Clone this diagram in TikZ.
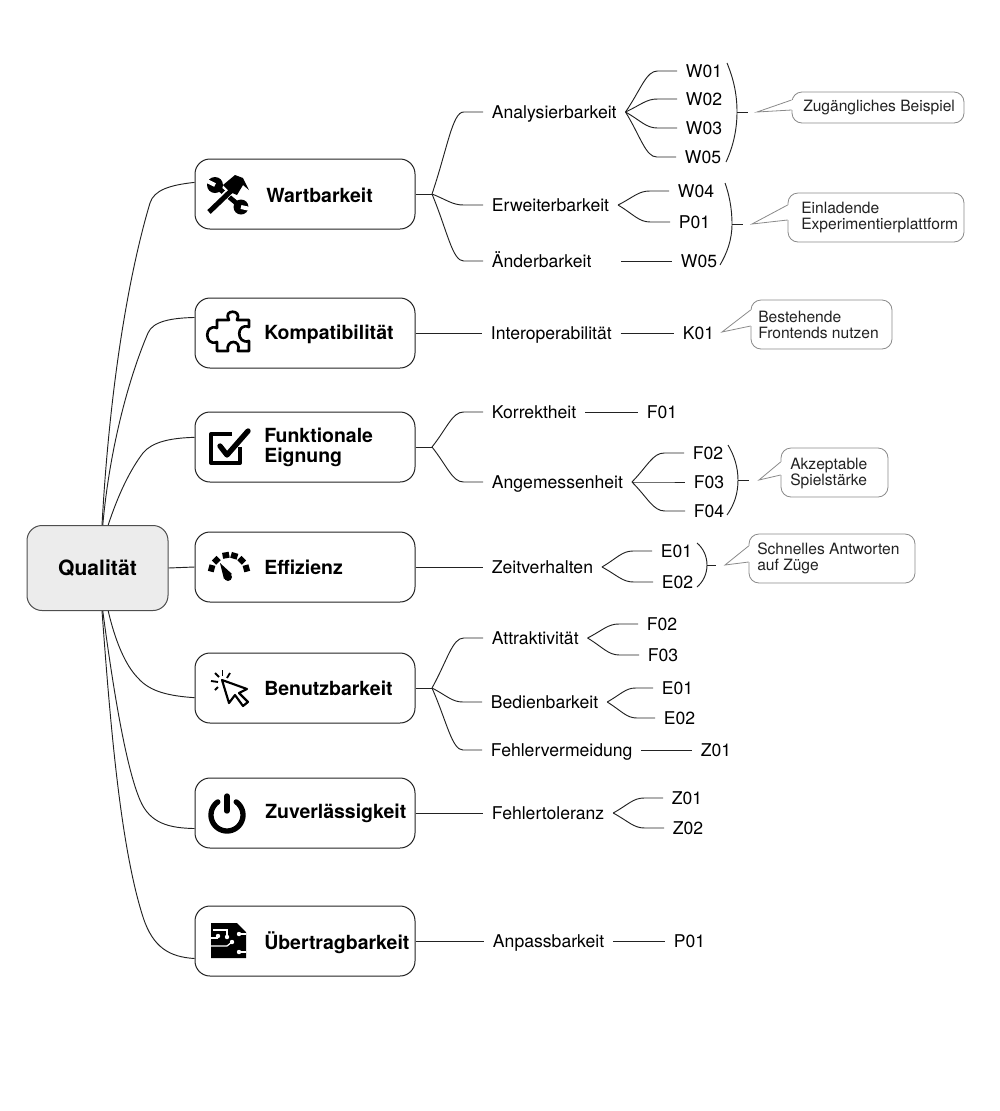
\documentclass[tikz,border=0pt]{standalone}
\usepackage{fontspec}
\setmainfont{TeX Gyre Heros}
\usetikzlibrary{calc}
\definecolor{linecol}{HTML}{222222}
\definecolor{notecol}{HTML}{8A8A8A}
\definecolor{rootcol}{HTML}{ECECEC}
\tikzset{
  link/.style={draw=linecol,line width=0.7pt},
  rootbox/.style={draw=linecol!80,fill=rootcol,rounded corners=11.25pt,line width=0.75pt,minimum width=105.75pt,minimum height=63.75pt,font=\bfseries\fontsize{15.8}{18}\selectfont},
  catbox/.style={draw=linecol,fill=white,rounded corners=11.25pt,line width=0.75pt,minimum width=165pt,minimum height=52.5pt},
  cattext/.style={anchor=west,inner sep=0pt,align=left,font=\bfseries\fontsize{14.6}{15}\selectfont},
  sublabel/.style={anchor=west,inner xsep=6.5pt,inner ysep=0pt,text height=11pt,text depth=2pt,font=\fontsize{13.2}{15}\selectfont},
  notebox/.style={draw=notecol,fill=white,rounded corners=7.5pt,line width=0.6pt},
  notetext/.style={anchor=west,inner sep=0pt,align=left,text=linecol,font=\fontsize{11.7}{12}\selectfont},
  notetail/.style={draw=notecol,line width=0.6pt},
  icon/.style={draw=black,line width=2pt,line join=round},
}
% twig from a hub to a label, bent near its end
\newcommand{\twig}[2]{%
  \draw[link] let \p1=(#1),\p2=(#2) in
    (\p1) .. controls ({\x1+0.3*(\x2-\x1)},{\y1+0.55*(\y2-\y1)}) and ({\x1+0.4*(\x2-\x1)},\y2)
    .. ({\x1+0.62*(\x2-\x1)},\y2) -- (\p2);}
% tail of a note, its mouth cut out of the border
\newcommand{\tail}[4]{%
  \draw[white,line width=1.4pt] ($(#1.west)+(0,#3)$) -- ($(#1.west)+(0,#4)$);
  \draw[notetail] ($(#1.west)+(0,#3)$) -- (#2) -- ($(#1.west)+(0,#4)$);}
\begin{document}
\begin{tikzpicture}[x=0.75pt,y=-0.75pt]
  \useasboundingbox (0,0) rectangle (1000,1111);

  %%%%%%%%%%%%%boxes%%%%%%%%%%%%%%%%%%%%%%
  \node[rootbox] (root) at (97.5,568) {Qualität};
  \node[catbox] (wart) at (305,194) {};
  \node[catbox] (komp) at (305,333) {};
  \node[catbox] (funk) at (305,447) {};
  \node[catbox] (effi) at (305,567) {};
  \node[catbox] (benu) at (305,688) {};
  \node[catbox] (zuve) at (305,813) {};
  \node[catbox] (uebe) at (305,941) {};

  \node[cattext] (warttext) at (266,195) {Wartbarkeit};
  \node[cattext] (komptext) at (264,334) {Kompatibilität};
  \node[cattext] (funktext) at (264,447) {Funktionale\\Eignung};
  \node[cattext] (effitext) at (264,567.5) {Effizienz};
  \node[cattext] (benutext) at (264,688.5) {Benutzbarkeit};
  \node[cattext] (zuvetext) at (265,813) {Zuverlässigkeit};
  \node[cattext] (uebetext) at (264,942.5) {Übertragbarkeit};

  %%%%%%%%%%%%%root to boxes%%%%%%%%%%%%%%%%%%%%%%
  \draw[link] (root.84) .. controls (110,380) and (130,270) .. (150,203) .. controls (154,190) and (170,185) .. (wart.174);
  \draw[link] (root.83) .. controls (110,445) and (130,375) .. (148,333) .. controls (153,321) and (172,318) .. (komp.172);
  \draw[link] (root.76) .. controls (118,495) and (130,470) .. (143,453) .. controls (152,442) and (170,438) .. (funk.175);
  \draw[link] (root.east) -- (effi.west);
  \draw[link] (root.-76) .. controls (115,640) and (125,665) .. (138,678) .. controls (150,692) and (170,696) .. (benu.185);
  \draw[link] (root.-83) .. controls (112,680) and (125,765) .. (140,800) .. controls (150,824) and (170,828) .. (zuve.188);
  \draw[link] (root.-84) .. controls (110,720) and (120,845) .. (143,917) .. controls (153,948) and (170,957) .. (uebe.189);

  %%%%%%%%%%%%%second level%%%%%%%%%%%%%%%%%%%%%%
  \node[sublabel] (anal) at (483,112) {Analysierbarkeit};
  \node[sublabel] (erwe) at (483,205) {Erweiterbarkeit};
  \node[sublabel] (aend) at (483,261) {Änderbarkeit};
  \node[sublabel] (inte) at (482,333) {Interoperabilität};
  \node[sublabel] (korr) at (483,412) {Korrektheit};
  \node[sublabel] (ange) at (483,482) {Angemessenheit};
  \node[sublabel] (zeit) at (483,567) {Zeitverhalten};
  \node[sublabel] (attr) at (483,638) {Attraktivität};
  \node[sublabel] (bedi) at (482,702) {Bedienbarkeit};
  \node[sublabel] (fehv) at (482,750) {Fehlervermeidung};
  \node[sublabel] (feht) at (483,813) {Fehlertoleranz};
  \node[sublabel] (anpa) at (484,941) {Anpassbarkeit};

  \coordinate (warthub) at (432,194);
  \coordinate (funkhub) at (432,447);
  \coordinate (benuhub) at (432,688);
  \coordinate (aendhub) at (621,261);
  \draw[link] (wart.east) -- (warthub);
  \draw[link] (funk.east) -- (funkhub);
  \draw[link] (benu.east) -- (benuhub);
  \foreach \sub in {anal,erwe,aend} \twig{warthub}{\sub.west};
  \foreach \sub in {korr,ange} \twig{funkhub}{\sub.west};
  \foreach \sub in {attr,bedi,fehv} \twig{benuhub}{\sub.west};
  \draw[link] (komp.east) -- (inte.west);
  \draw[link] (effi.east) -- (zeit.west);
  \draw[link] (zuve.east) -- (feht.west);
  \draw[link] (uebe.east) -- (anpa.west);

  %%%%%%%%%%%%%leaves%%%%%%%%%%%%%%%%%%%%%%
  \node[sublabel] (w01) at (677,71) {W01};
  \node[sublabel] (w02) at (677,99) {W02};
  \node[sublabel] (w03) at (677,128) {W03};
  \node[sublabel] (w05) at (676,157) {W05};
  \node[sublabel] (w04) at (669,191) {W04};
  \node[sublabel] (p01) at (670,222) {P01};
  \node[sublabel] (w05b) at (672,261) {W05};
  \node[sublabel] (k01) at (674,333) {K01};
  \node[sublabel] (f01) at (638,412) {F01};
  \node[sublabel] (f02) at (684,453) {F02};
  \node[sublabel] (f03) at (685,482) {F03};
  \node[sublabel] (f04) at (685,511) {F04};
  \node[sublabel] (e01) at (652,551) {E01};
  \node[sublabel] (e02) at (653,582) {E02};
  \node[sublabel] (f02b) at (638,624) {F02};
  \node[sublabel] (f03b) at (639,655) {F03};
  \node[sublabel] (e01b) at (653,688) {E01};
  \node[sublabel] (e02b) at (655,718) {E02};
  \node[sublabel] (z01) at (692,750) {Z01};
  \node[sublabel] (z01b) at (663,798) {Z01};
  \node[sublabel] (z02) at (664,828) {Z02};
  \node[sublabel] (p01b) at (665,941) {P01};

  \foreach \leaf in {w01,w02,w03,w05} \twig{anal.east}{\leaf.west};
  \foreach \leaf in {w04,p01} \twig{erwe.east}{\leaf.west};
  \foreach \leaf in {f02,f03,f04} \twig{ange.east}{\leaf.west};
  \foreach \leaf in {e01,e02} \twig{zeit.east}{\leaf.west};
  \foreach \leaf in {f02b,f03b} \twig{attr.east}{\leaf.west};
  \foreach \leaf in {e01b,e02b} \twig{bedi.east}{\leaf.west};
  \foreach \leaf in {z01b,z02} \twig{feht.east}{\leaf.west};
  \draw[link] (aendhub) -- (w05b.west);
  \draw[link] (inte.east) -- (k01.west);
  \draw[link] (korr.east) -- (f01.west);
  \draw[link] (fehv.east) -- (z01.west);
  \draw[link] (anpa.east) -- (p01b.west);

  %%%%%%%%%%%%%brackets and notes%%%%%%%%%%%%%%%%%%%%%%
  \node[notebox,minimum width=129pt,minimum height=23.25pt] (note1) at (878,107.5) {};
  \node[notebox,minimum width=132pt,minimum height=36.75pt] (note2) at (876,217.5) {};
  \node[notebox,minimum width=105.75pt,minimum height=36.75pt] (note3) at (821.5,324.5) {};
  \node[notebox,minimum width=80.25pt,minimum height=36.75pt] (note4) at (834.5,472.5) {};
  \node[notebox,minimum width=124.5pt,minimum height=36.75pt] (note5) at (832,558.5) {};

  \node[notetext] (text1) at (803,108) {Zugängliches Beispiel};
  \node[notetext] (text2) at (801,217.5) {Einladende\\Experimentierplattform};
  \node[notetext] (text3) at (758,325) {Bestehende\\Frontends nutzen};
  \node[notetext] (text4) at (790,474) {Akzeptable\\Spielstärke};
  \node[notetext] (text5) at (757,558) {Schnelles Antworten\\auf Züge};

  \coordinate (tip1) at (757,112);
  \coordinate (tip2) at (752,224);
  \coordinate (tip3) at (722,332);
  \coordinate (tip4) at (759,480);
  \coordinate (tip5) at (725,565);
  \tail{note1}{tip1}{-7.5}{2.5}
  \tail{note2}{tip2}{-12.5}{2.5}
  \tail{note3}{tip3}{-14.5}{1.5}
  \tail{note4}{tip4}{-10.5}{2.5}
  \tail{note5}{tip5}{-12.5}{3.5}

  \coordinate (brace1) at (737,112);
  \coordinate (brace2) at (732,224);
  \coordinate (brace4) at (738,480);
  \coordinate (brace5) at (707,565);
  \coordinate (dash1) at (748,112);
  \coordinate (dash2) at (743,224);
  \coordinate (dash4) at (749,480);
  \coordinate (dash5) at (716,565);
  \draw[link] (727,63) .. controls (734,80) and (737,95) .. (brace1) .. controls (737,130) and (733,147) .. (726,162);
  \draw[link] (725,183) .. controls (729,194) and (732,208) .. (brace2) .. controls (732,240) and (727,253) .. (720,265);
  \draw[link] (728,445) .. controls (734,455) and (738,467) .. (brace4) .. controls (738,494) and (734,505) .. (727,515);
  \draw[link] (697,543) .. controls (703,548) and (707,556) .. (brace5) .. controls (707,574) and (703,582) .. (697,587);
  \foreach \n in {1,2,4,5} \draw[link] (brace\n) -- (dash\n);

  %%%%%%%%%%%%%icons%%%%%%%%%%%%%%%%%%%%%%
  % tools
  \draw[black,line width=3.6pt] (216,186) -- (241,207);
  \fill[black] (215,185) circle (8);
  \fill[black] (241,207) circle (7.5);
  \draw[white,line width=3pt] (215,185) -- (207,181);
  \draw[white,line width=3pt] (241,207) -- (250,209);
  \draw[white,line width=5.6pt] (212,209) -- (232,189);
  \draw[black,line width=3.8pt] (209,212) -- (232,190);
  \fill[black] (223,185) -- (235,175) -- (243,178) -- (249,190) -- (243,185) -- (237,195) -- (230,192) -- cycle;
  % puzzle
  \draw[icon] (217,320) -- (229,320) .. controls (222,309) and (243,309) .. (237,320) -- (249,320) -- (249,327)
    .. controls (236,322) and (236,345) .. (249,341) -- (249,351) -- (238,351)
    .. controls (242,339) and (225,339) .. (228,351) -- (217,351) -- (217,342)
    .. controls (204,347) and (204,323) .. (217,328) -- cycle;
  % check box
  \draw[black,line width=3pt,line join=round] (232,434) -- (211,434) -- (211,463) -- (240,463) -- (240,447);
  \draw[black,line width=4pt,line cap=round,line join=round] (220,446) -- (227,455) -- (248,431);
  % gauge
  \begin{scope}[shift={(229,573)}]
    \foreach \ang in {15,45,73,100,135,165}
      \draw[black,line width=5pt] (-\ang:15) -- (-\ang:21);
    \fill[black] (-9,-10) -- (3,1) -- (-5,6) -- cycle;
    \fill[black] (-1,4) circle (4);
  \end{scope}
  % cursor
  \draw[icon,line width=1.6pt] (222,680) -- (229,703) -- (235,695) -- (243,706) -- (248,702) -- (239,693) -- (247,689) -- cycle;
  \draw[black,line width=1.4pt] (222.5,670) -- (222.5,676);
  \draw[black,line width=1.4pt] (230,673) -- (227,678);
  \draw[black,line width=1.4pt] (211,681) -- (218,682);
  \draw[black,line width=1.4pt] (215,690) -- (218,687);
  \draw[black,line width=1.4pt] (215,673) -- (219,677);
  % power
  \draw[black,line width=4pt,line cap=round] plot[domain=55:-235,samples=40,smooth] ({227+16*cos(\x)},{815-16*sin(\x)});
  \draw[black,line width=4pt,line cap=round] (227,796) -- (227,811);
  % chip
  \fill[black] (211,923) -- (237,923) -- (246,932) -- (246,958) -- (211,958) -- cycle;
  \begin{scope}[white,line width=0.9pt]
    \draw (213,930) -- (227,930) -- (227,937);
    \draw (211,938) -- (218,938);
    \draw (239,934) -- (246,934);
    \draw (239,952) -- (246,952);
    \draw (211,946) -- (227,946) -- (232,942);
    \foreach \dotx/\doty in {227/937,218/936,239/934,239/952,232/942}
      \fill (\dotx,\doty) circle (2.2);
  \end{scope}
\end{tikzpicture}
\end{document}
